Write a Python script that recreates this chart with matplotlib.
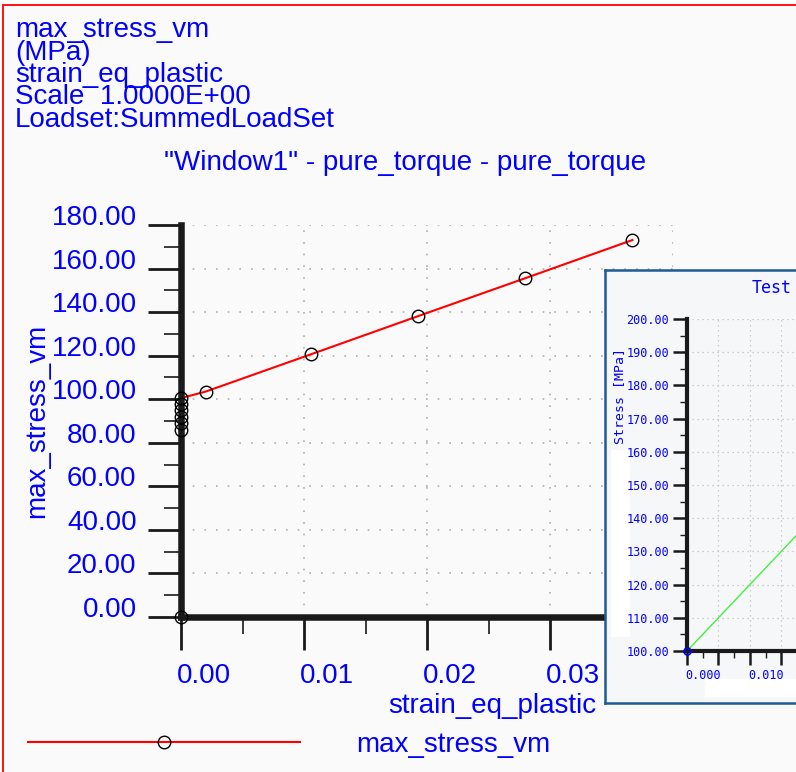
import numpy as np
import matplotlib
matplotlib.use('Agg')
import matplotlib.pyplot as plt
from matplotlib.patches import Rectangle
from matplotlib.lines import Line2D
from matplotlib.ticker import MultipleLocator, FuncFormatter, FormatStrFormatter
from matplotlib.transforms import ScaledTranslation

plt.rcParams['font.family'] = ['Liberation Sans', 'DejaVu Sans']

# data
strain = [0.0, 0.0, 0.0, 0.0, 0.0, 0.0, 0.0, 0.0020, 0.0106, 0.0193, 0.0280, 0.0367]
stress = [0.0, 86.0, 89.0, 92.0, 95.0, 98.0, 100.5, 103.5, 120.7, 138.2, 155.6, 173.1]

# inset "Test" curve
test_strain = [0.0, 0.05]
test_stress = [100.0, 200.0]

header_lines = ['max_stress_vm', '(MPa)', 'strain_eq_plastic',
                'Scale  1.0000E+00', 'Loadset:SummedLoadSet']
title = '"Window1" - pure_torque - pure_torque'
series_name = 'max_stress_vm'

W, H = 796, 772
BLUE = '#0000ff'
MONO = ['DejaVu Sans Mono']


def fx(x):
    return x / W


def fy(y):
    return 1 - y / H


fig = plt.figure(figsize=(W / 100, H / 100), dpi=100, facecolor='white')

# red frame
fig.patches.append(Rectangle((fx(3), -0.1), 1.2, fy(5) + 0.1, transform=fig.transFigure,
                             facecolor='#fafafb', edgecolor='red', lw=1.3, zorder=-10))

# ---- main chart
ax = fig.add_axes([fx(181), fy(617), fx(492), 392 / H])
ax.set_facecolor('none')
# line sits under the spine, markers on top of it
ax.plot(strain, stress, color='red', lw=1.5, zorder=2, clip_on=False)
ax.plot(strain, stress, ls='none', marker='o', ms=9, mfc='none',
        mec='black', mew=1.0, zorder=5, clip_on=False)
ax.set_xlim(0, 0.04)
ax.set_ylim(0, 180)
for s in ['top', 'right']:
    ax.spines[s].set_visible(False)
for s in ['left', 'bottom']:
    ax.spines[s].set_linewidth(4.7)
    ax.spines[s].set_color('#1a1a1a')
    ax.spines[s].set_zorder(3)
ax.yaxis.set_major_locator(MultipleLocator(20))
ax.yaxis.set_minor_locator(MultipleLocator(10))
ax.xaxis.set_major_locator(MultipleLocator(0.01))
ax.xaxis.set_minor_locator(MultipleLocator(0.005))
ax.yaxis.set_major_formatter(FormatStrFormatter('%.2f'))
ax.xaxis.set_major_formatter(FormatStrFormatter('%.2f'))
ax.tick_params(which='major', length=24, width=2.0, color='#1a1a1a',
               labelsize=20, labelcolor=BLUE, direction='out')
ax.tick_params(which='minor', length=12, width=1.2, color='#1a1a1a', direction='out')
ax.tick_params(axis='y', which='major', pad=8)
ax.tick_params(axis='x', which='major', pad=9)
ax.grid(True, which='major', color='#b0b0b0', lw=1.2, ls=(0, (1, 6)))
ax.set_axisbelow(True)
for lab in ax.get_yticklabels():
    lab.set_transform(lab.get_transform() + ScaledTranslation(0, 0.10, fig.dpi_scale_trans))
for lab in ax.get_xticklabels():
    lab.set_horizontalalignment('left')
    lab.set_transform(lab.get_transform() + ScaledTranslation(-0.04, 0, fig.dpi_scale_trans))

# header text block
for i, line in enumerate(header_lines):
    fig.text(fx(15), fy(37 + 22.5 * i), line, fontsize=20, color=BLUE, va='baseline')
fig.text(fx(405), fy(170), title, fontsize=20, color=BLUE, ha='center', va='baseline')
fig.text(fx(37), fy(421), 'max_stress_vm', fontsize=20, color=BLUE,
         rotation=90, ha='center', va='center')
fig.text(fx(388), fy(706), 'strain_eq_plastic', fontsize=20, color=BLUE,
         ha='left', va='center')

handle = Line2D([], [], color='red', lw=1.5, marker='o', ms=9, mfc='none',
                mec='black', mew=1.0)
fig.legend([handle], [series_name], loc='upper left', bbox_to_anchor=(fx(28), fy(732)),
           frameon=False, fontsize=20, labelcolor=BLUE, handlelength=9.8,
           handletextpad=2.0, borderpad=0, borderaxespad=0, numpoints=1)

# ---- overlapping inset window
panel = fig.add_axes([fx(605), fy(703), fx(300), 433 / H], zorder=5)
panel.set_facecolor('#f6f7f9')
panel.set_xticks([])
panel.set_yticks([])
for s in panel.spines.values():
    s.set_color('#1e5a96')
    s.set_linewidth(1.8)
panel.add_patch(Rectangle((fx(611), fy(637)), fx(19), 187 / H, transform=fig.transFigure,
                          facecolor='white', edgecolor='none'))
panel.add_patch(Rectangle((fx(705), fy(697)), fx(95), 18 / H, transform=fig.transFigure,
                          facecolor='white', edgecolor='none'))

ix = fig.add_axes([fx(687), fy(651), fx(110), 332 / H], zorder=6)
ix.set_facecolor('none')
ix.plot(test_strain, test_stress, color='#44ee44', lw=1.0)
ix.plot(test_strain[:1], test_stress[:1], ls='none', marker='o', ms=5, mfc='none',
        mec='blue', mew=1.2, clip_on=False, zorder=5)
ix.set_xlim(0, 0.0175)
ix.set_ylim(100, 200)
for s in ['top', 'right']:
    ix.spines[s].set_visible(False)
for s in ['left', 'bottom']:
    ix.spines[s].set_linewidth(3.0)
    ix.spines[s].set_color('#1a1a1a')
ix.yaxis.set_major_locator(MultipleLocator(10))
ix.yaxis.set_minor_locator(MultipleLocator(5))
ix.xaxis.set_major_locator(MultipleLocator(0.005))
ix.xaxis.set_minor_locator(MultipleLocator(0.0025))
ix.yaxis.set_major_formatter(FormatStrFormatter('%.2f'))
ix.xaxis.set_major_formatter(FuncFormatter(
    lambda v, p: '%.3f' % v if abs(v / 0.01 - round(v / 0.01)) < 1e-6 else ''))
ix.tick_params(which='major', length=10, width=1.8, color='#1a1a1a',
               labelsize=8.5, labelcolor=BLUE, direction='out', pad=3)
ix.tick_params(which='minor', length=5, width=1.0, color='#1a1a1a', direction='out')
for lab in ix.get_yticklabels() + ix.get_xticklabels():
    lab.set_fontfamily(MONO)
for lab in ix.get_xticklabels():
    lab.set_horizontalalignment('left')
    lab.set_transform(lab.get_transform() + ScaledTranslation(-0.02, 0, fig.dpi_scale_trans))
ix.grid(True, which='major', color='#c0c0c0', lw=0.9, ls=(0, (1, 3)))
ix.set_axisbelow(True)

fig.text(fx(752), fy(288), 'Test', fontsize=12, color=BLUE, family=MONO,
         va='center', ha='left', zorder=10)
fig.text(fx(620), fy(396), 'Stress [MPa]', fontsize=9.5, color=BLUE, family=MONO,
         rotation=90, ha='center', va='center', zorder=10)

fig.savefig('out.png', dpi=100, facecolor=fig.get_facecolor())
